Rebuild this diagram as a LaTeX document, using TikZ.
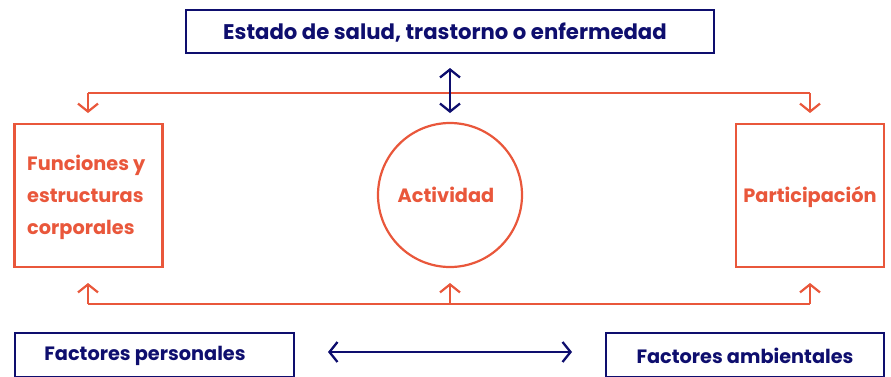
\documentclass[tikz,border=0pt]{standalone}
\usepackage{fontspec}
\setmainfont{Poppins}
\usetikzlibrary{arrows.meta}
\definecolor{orng}{HTML}{E9573B}
\definecolor{navy}{HTML}{0E0E6E}
\tikzset{
  ofont/.style={font=\bfseries\fontsize{19.3}{32}\selectfont},
  oline/.style={draw=orng, line width=2.2pt},
  orect/.style={oline, inner sep=0pt},
  nrect/.style={draw=navy, line width=2.3pt, inner sep=0pt},
  otext/.style={inner sep=0pt, text=orng, ofont},
  ntext/.style={inner sep=0pt, text=navy, ofont},
  otip/.style={oline, -{Straight Barb[length=8pt,width=20pt,line width=2.2pt]}},
  ntip/.style={draw=navy, line width=2.3pt, {Straight Barb[length=8pt,width=20pt,line width=2.3pt]}-{Straight Barb[length=8pt,width=20pt,line width=2.3pt]}},
}
\begin{document}
\begin{tikzpicture}[x=1pt,y=-1pt]
\useasboundingbox (0,0) rectangle (891,376);
% boxes
\node[nrect, minimum width=528pt, minimum height=43pt] (top) at (450,31.5) {};
\node[ntext, font=\bfseries\fontsize{21.2}{24}\selectfont] (topt) at (445,33) {Estado de salud, trastorno o enfermedad};
\node[orect, minimum width=148pt, minimum height=143pt] (fun) at (88.5,195.5) {};
\node[otext, anchor=west, align=left] (funt) at (27,197) {Funciones y\\estructuras\\corporales};
\node[orect, circle, minimum size=144pt] (act) at (450,195) {};
\node[otext] (actt) at (446,195) {Actividad};
\node[orect, minimum width=148pt, minimum height=143pt] (par) at (810,195.5) {};
\node[otext] (part) at (810,197) {Participación};
\node[nrect, minimum width=279pt, minimum height=44pt] (per) at (154.5,355) {};
\node[ntext] (pert) at (145,356) {Factores personales};
\node[nrect, minimum width=278pt, minimum height=44pt] (amb) at (745,355) {};
\node[ntext] (ambt) at (745,356) {Factores ambientales};
% coordinates
\coordinate (tl) at (88,93);
\coordinate (tr) at (810,93);
\coordinate (tlend) at (88,113);
\coordinate (trend) at (810,113);
\coordinate (bl) at (88,304);
\coordinate (bm) at (450,304);
\coordinate (br) at (810,304);
\coordinate (blend) at (88,283);
\coordinate (bmend) at (450,283);
\coordinate (brend) at (810,283);
\coordinate (ntop) at (450,68);
\coordinate (nbot) at (450,113);
\coordinate (hl) at (328,352);
\coordinate (hr) at (572,352);
% orange connectors
\draw[oline] (tl) -- (tr);
\draw[otip] (tl) -- (tlend);
\draw[otip] (tr) -- (trend);
\draw[oline] (bl) -- (br);
\draw[otip] (bl) -- (blend);
\draw[otip] (bm) -- (bmend);
\draw[otip] (br) -- (brend);
% navy connectors
\draw[ntip] (ntop) -- (nbot);
\draw[ntip] (hl) -- (hr);
\end{tikzpicture}
\end{document}
